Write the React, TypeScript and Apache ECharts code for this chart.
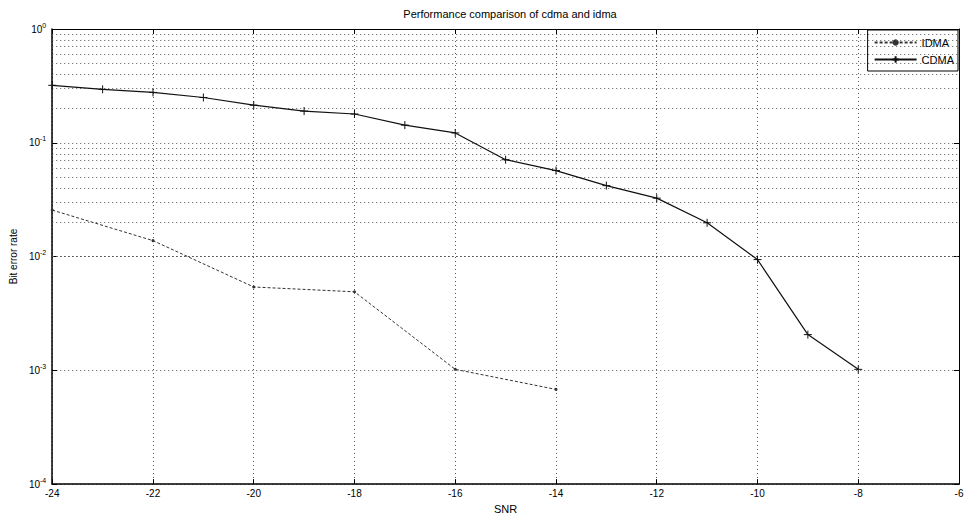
import React, { useEffect, useRef } from "react";
import * as echarts from "echarts";

const titleText = "Performance comparison of cdma and idma";
const xTicks = [-24, -22, -20, -18, -16, -14, -12, -10, -8, -6];
const cdmaX = [-24, -23, -22, -21, -20, -19, -18, -17, -16, -15, -14, -13, -12, -11, -10, -9, -8];
const cdmaY = [0.32, 0.295, 0.277, 0.25, 0.214, 0.19, 0.179, 0.143, 0.122, 0.071, 0.057, 0.042, 0.0326, 0.0198, 0.0094, 0.00206, 0.00102];
const idmaX = [-24, -22, -20, -18, -16, -14];
const idmaY = [0.0256, 0.0138, 0.0054, 0.0049, 0.00102, 0.00068];
const minorGrid: number[] = [];
[1e-4, 1e-3, 1e-2, 1e-1].forEach((d) => {
  for (let k = 2; k <= 9; k++) minorGrid.push(d * k);
});

const FONT = "Liberation Sans";

export default function App() {
  const ref = useRef<HTMLDivElement>(null);
  useEffect(() => {
    document.body.style.margin = "0";
    const chart = echarts.init(ref.current!, null, { renderer: "svg" });
    const gridLine = { show: true, lineStyle: { color: "#555", type: [1, 3] as any, width: 1 } };
    chart.setOption({
      animation: false,
      backgroundColor: "#fff",
      textStyle: { fontFamily: FONT },
      title: {
        text: titleText,
        left: 505,
        textAlign: "center",
        top: 3,
        textStyle: { fontSize: 11, fontWeight: "normal", color: "#000", fontFamily: FONT },
      },
      grid: { left: 51, right: 9, top: 29, bottom: 30 },
      legend: {
        orient: "vertical",
        right: 10,
        top: 30,
        itemWidth: 42,
        itemHeight: 8,
        itemGap: 6,
        padding: [7, 4, 6, 6],
        borderColor: "#000",
        borderWidth: 1,
        backgroundColor: "#fff",
        borderRadius: 0,
        textStyle: { fontSize: 11, color: "#000", fontFamily: FONT },
        data: ["IDMA", "CDMA"],
      },
      xAxis: [
        {
          type: "value",
          min: -24,
          max: -6,
          interval: 2,
          name: "SNR",
          nameLocation: "middle",
          nameGap: 18,
          nameTextStyle: { fontSize: 11, color: "#000", fontFamily: FONT },
          axisLine: { show: true, onZero: false, lineStyle: { color: "#000", width: 1.5 } },
          axisTick: { show: true, inside: true, length: 5, lineStyle: { color: "#000" } },
          axisLabel: { fontSize: 10, color: "#000", margin: 4, fontFamily: FONT },
          splitLine: gridLine,
        },
        {
          type: "value",
          position: "top",
          min: -24,
          max: -6,
          interval: 2,
          axisLine: { show: true, onZero: false, lineStyle: { color: "#000", width: 1 } },
          axisTick: { show: true, inside: true, length: 5, lineStyle: { color: "#000" } },
          axisLabel: { show: false },
          splitLine: { show: false },
        },
      ],
      yAxis: [
        {
          type: "log",
          logBase: 10,
          min: 1e-4,
          max: 1,
          name: "Bit error rate",
          nameLocation: "middle",
          nameGap: 33,
          nameTextStyle: { fontSize: 10, color: "#000", fontFamily: FONT },
          axisLine: { show: true, onZero: false, lineStyle: { color: "#000", width: 1.5 } },
          axisTick: { show: true, inside: true, length: 5, lineStyle: { color: "#000" } },
          axisLabel: {
            margin: 6,
            formatter: (v: number) => `{b|10}{s|${Math.round(Math.log10(v))}}`,
            rich: {
              b: { fontSize: 10, color: "#000", fontFamily: FONT },
              s: { fontSize: 7, color: "#000", fontFamily: FONT, verticalAlign: "top", padding: [0, 0, 8, 0] },
            },
          },
          splitLine: gridLine,
        },
        {
          type: "log",
          logBase: 10,
          min: 1e-4,
          max: 1,
          position: "right",
          axisLine: { show: true, onZero: false, lineStyle: { color: "#000", width: 1 } },
          axisTick: { show: true, inside: true, length: 5, lineStyle: { color: "#000" } },
          axisLabel: { show: false },
          splitLine: { show: false },
        },
      ],
      series: [
        {
          name: "minor",
          type: "line",
          data: [],
          silent: true,
          markLine: {
            silent: true,
            symbol: "none",
            label: { show: false },
            lineStyle: { color: "#555", type: [1, 3] as any, width: 1 },
            data: minorGrid.map((v) => ({ yAxis: v })),
          },
        },
        {
          name: "IDMA",
          type: "line",
          data: idmaX.map((x, i) => [x, idmaY[i]]),
          symbol: "circle",
          symbolSize: 3,
          lineStyle: { color: "#333", width: 1, type: [3, 2] as any },
          itemStyle: { color: "#333" },
          z: 5,
        },
        {
          name: "CDMA",
          type: "line",
          data: cdmaX.map((x, i) => [x, cdmaY[i]]),
          symbol: "path://M0,5L10,5M5,0L5,10",
          symbolSize: 8,
          lineStyle: { color: "#111", width: 1.2 },
          itemStyle: { color: "#111", borderColor: "#111", borderWidth: 1 },
          z: 6,
        },
      ],
    });
    return () => chart.dispose();
  }, []);
  return <div ref={ref} style={{ width: 968, height: 519 }} />;
}
